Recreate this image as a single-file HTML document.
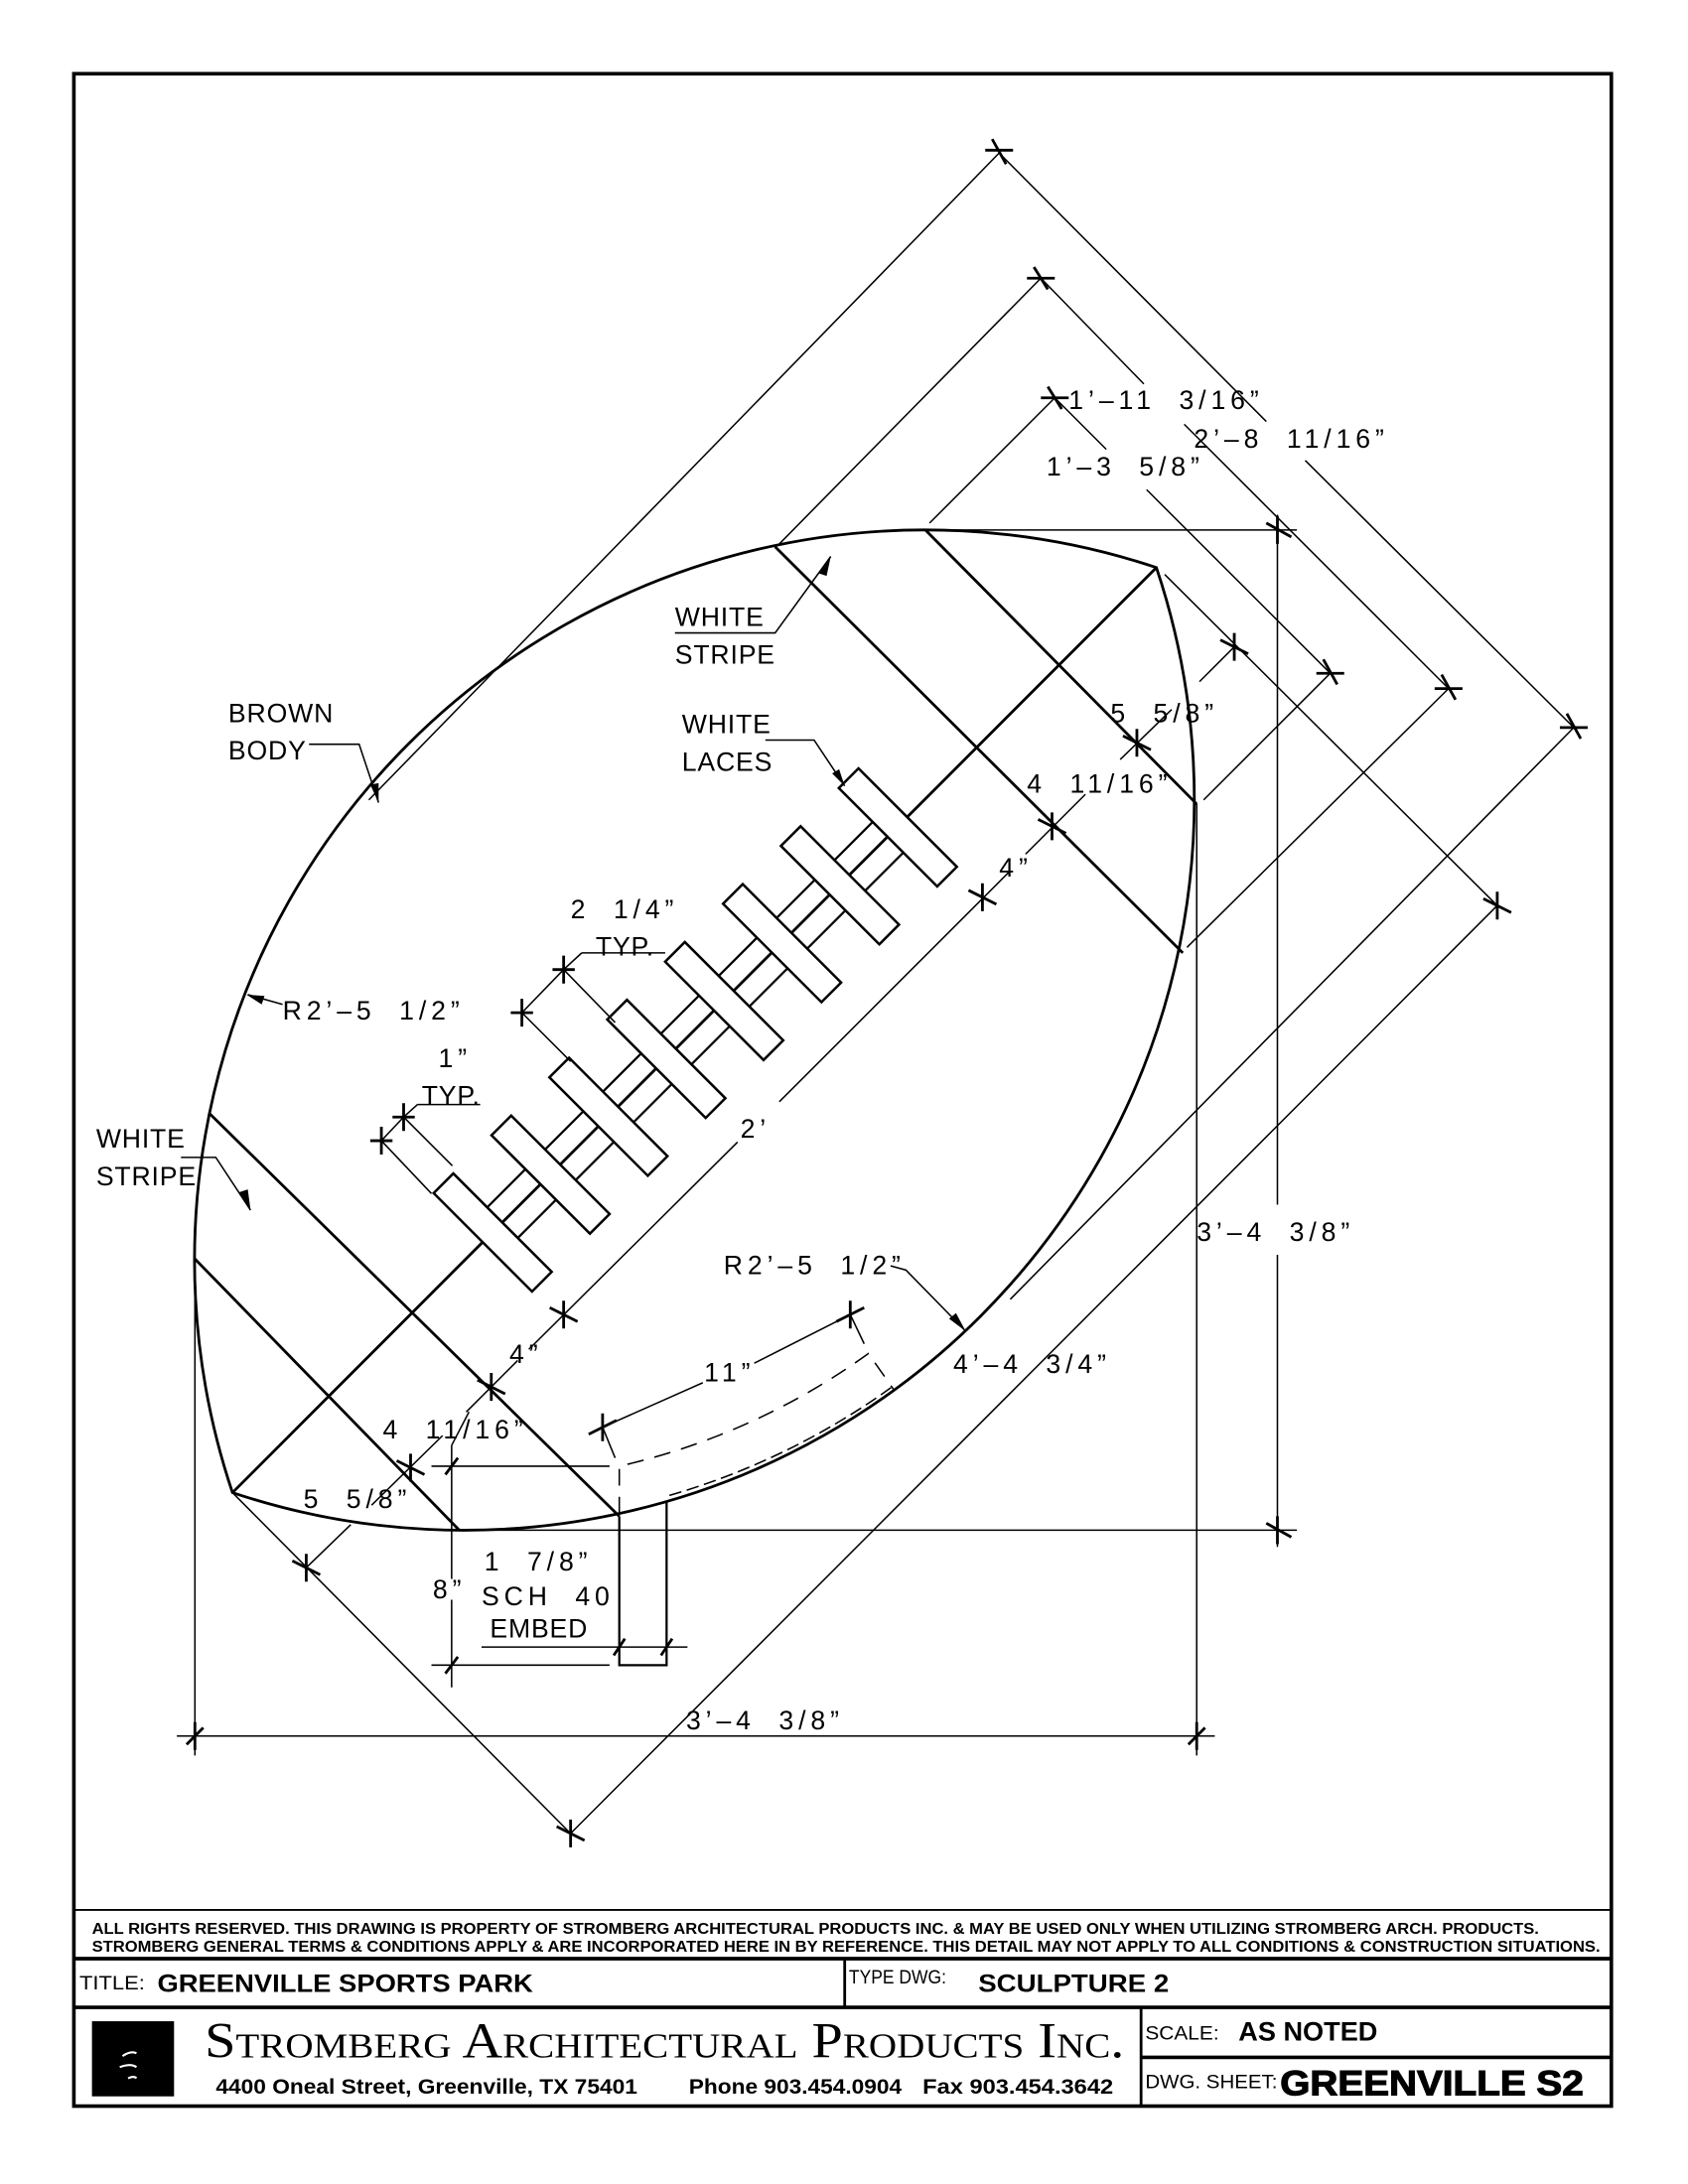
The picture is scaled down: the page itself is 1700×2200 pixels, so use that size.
<!DOCTYPE html>
<html><head><meta charset="utf-8"><style>
html,body{margin:0;padding:0;background:#fff}
svg{display:block}
text{font-family:"Liberation Sans",sans-serif;fill:#000}
.t{font-size:19px;letter-spacing:0.6px;font-weight:normal}
.d{font-size:19px;letter-spacing:3.5px;word-spacing:8px;font-weight:normal}
</style></head><body>
<svg width="1700" height="2200" viewBox="0 0 1213 1570" xmlns="http://www.w3.org/2000/svg">
<rect width="1213" height="1570" fill="#fff"/>
<!-- border -->
<rect x="53" y="53" width="1105" height="1461" fill="none" stroke="#000" stroke-width="2.6"/>
<line x1="53" y1="1373" x2="1158" y2="1373" stroke="#000" stroke-width="1.3"/>
<line x1="53" y1="1408" x2="1158" y2="1408" stroke="#000" stroke-width="2.6"/>
<line x1="53" y1="1443" x2="1158" y2="1443" stroke="#000" stroke-width="2.6"/>
<line x1="607" y1="1408" x2="607" y2="1443" stroke="#000" stroke-width="2"/>
<line x1="820" y1="1443" x2="820" y2="1514" stroke="#000" stroke-width="2"/>
<line x1="820" y1="1479" x2="1158" y2="1479" stroke="#000" stroke-width="2.6"/>

<g stroke="#000" fill="none" stroke-width="1.1">
<path d="M167,1073 A525,525 0 0 1 831,408 A525,525 0 0 1 167,1073 Z" stroke-width="2"/>
<line x1="557" y1="393" x2="850" y2="685" stroke-width="2"/>
<line x1="665" y1="381" x2="860" y2="578" stroke-width="2"/>
<line x1="150" y1="800" x2="445" y2="1090" stroke-width="2"/>
<line x1="140" y1="905" x2="330" y2="1100" stroke-width="2"/>
<line x1="167" y1="1073" x2="831" y2="408" stroke-width="2"/>
<g stroke-width="1.6">
<line x1="343" y1="875" x2="634" y2="584"/>
<line x1="365" y1="897" x2="656" y2="606"/>
</g>
<g fill="#fff" stroke-width="1.8">
<rect x="-50" y="-10" width="100" height="20" transform="translate(354,886) rotate(45)"/>
<rect x="-50" y="-10" width="100" height="20" transform="translate(395.6,844.4) rotate(45)"/>
<rect x="-50" y="-10" width="100" height="20" transform="translate(437.2,802.8) rotate(45)"/>
<rect x="-50" y="-10" width="100" height="20" transform="translate(478.8,761.2) rotate(45)"/>
<rect x="-50" y="-10" width="100" height="20" transform="translate(520.4,719.6) rotate(45)"/>
<rect x="-50" y="-10" width="100" height="20" transform="translate(562,678) rotate(45)"/>
<rect x="-50" y="-10" width="100" height="20" transform="translate(603.6,636.4) rotate(45)"/>
<rect x="-50" y="-10" width="100" height="20" transform="translate(645.2,594.8) rotate(45)"/>
</g>

<line x1="718" y1="110" x2="265" y2="575"/>
<line x1="718" y1="110" x2="910" y2="303"/>
<line x1="938" y1="331" x2="1131" y2="523"/>
<line x1="1131" y1="523" x2="726" y2="934"/>
<line x1="748" y1="200" x2="560" y2="391"/>
<line x1="748" y1="200" x2="822" y2="276"/>
<line x1="851" y1="305" x2="1041" y2="495"/>
<line x1="1041" y1="495" x2="853" y2="681"/>
<line x1="758" y1="286" x2="668" y2="376"/>
<line x1="758" y1="286" x2="795" y2="323"/>
<line x1="824" y1="352" x2="956" y2="484"/>
<line x1="956" y1="484" x2="865" y2="575"/>
<line x1="837" y1="413" x2="1076" y2="651"/>
<line x1="1076" y1="651" x2="410" y2="1318"/>
<line x1="167" y1="1073" x2="410" y2="1318"/>
<line x1="887" y1="465" x2="862" y2="490"/>
<line x1="842" y1="510" x2="805" y2="546"/>
<line x1="780" y1="571" x2="737" y2="614"/>
<line x1="725" y1="627" x2="560" y2="792"/>
<line x1="530" y1="821" x2="380" y2="970"/>
<line x1="372" y1="978" x2="335" y2="1015"/>
<line x1="318" y1="1032" x2="267" y2="1082"/>
<line x1="252" y1="1096" x2="220" y2="1127"/>
<line x1="665" y1="381" x2="932" y2="381"/>
<line x1="330" y1="1100" x2="932" y2="1100"/>
<line x1="918" y1="370" x2="918" y2="866"/>
<line x1="918" y1="902" x2="918" y2="1112"/>
<line x1="127" y1="1248" x2="873" y2="1248"/>
<line x1="140" y1="905" x2="140" y2="1262"/>
<line x1="860" y1="578" x2="860" y2="1262"/>
<polyline points="445,1090 445,1197 479,1197 479,1080" stroke-width="1.6"/>
<line x1="346" y1="1184" x2="494" y2="1184"/>
<line x1="310" y1="1054" x2="438" y2="1054"/>
<line x1="310" y1="1197" x2="438" y2="1197"/>
<line x1="324.5" y1="1039" x2="324.5" y2="1135"/>
<line x1="324.5" y1="1150" x2="324.5" y2="1213"/>
<line x1="324.5" y1="1039" x2="337" y2="1015"/>
<path d="M445,1088 L445,1054 A492,492 0 0 0 624,973 L643,1000" stroke-dasharray="12,8"/>
<path d="M481,1075 A520,520 0 0 0 641,997" stroke-dasharray="9,4"/>
<line x1="433" y1="1026" x2="505" y2="994"/>
<line x1="542" y1="980" x2="611" y2="945"/>
<line x1="433" y1="1026" x2="442" y2="1048"/>
<line x1="611" y1="945" x2="621" y2="966"/>
<line x1="375" y1="728" x2="405" y2="697"/>
<line x1="405" y1="697" x2="442" y2="735"/>
<line x1="375" y1="728" x2="410" y2="763"/>
<line x1="405" y1="697" x2="418" y2="685"/><line x1="418" y1="685" x2="478" y2="685"/>
<line x1="274" y1="820" x2="290" y2="803"/>
<line x1="290" y1="803" x2="325" y2="838"/>
<line x1="274" y1="820" x2="310" y2="858"/>
<line x1="290" y1="803" x2="300" y2="794"/><line x1="300" y1="794" x2="345" y2="794"/>
<polyline points="485,455 557,455 597,400"/>
<polyline points="222,535 258,535 272,577"/>
<polyline points="550,532 585,532 607,565"/>
<polyline points="130,832 155,832 180,870"/>
<line x1="178" y1="715" x2="203" y2="722"/>
<polyline points="640,910 651,913 694,957"/>
</g>
<g fill="#000">
<polygon points="597,400 588,412 594,414"/>
<polygon points="272,577 266,564 272,563"/>
<polygon points="607,565 598,556 603,553"/>
<polygon points="180,870 172,857 178,855"/>
<polygon points="177,715 190,716 188,722"/>
<polygon points="694,957 682,948 687,944"/>
</g>
<g stroke="#000" stroke-width="2">
<path d="M708,108 L728,108 M713,100 L723,118"/>
<path d="M738,200 L758,200 M743,192 L753,208"/>
<path d="M748,286 L768,286 M753,278 L763,294"/>
<path d="M1121,523 L1141,523 M1126,513 L1136,531"/>
<path d="M1031,495 L1051,495 M1036,485 L1046,503"/>
<path d="M946,484 L966,484 M951,474 L961,492"/>
<path d="M1076,641 L1076,661 M1066,646 L1086,656"/>
<path d="M887,455 L887,475 M877,460 L897,470"/>
<path d="M817,524 L817,544 M807,529 L827,539"/>
<path d="M756,584 L756,604 M746,589 L766,599"/>
<path d="M706,635 L706,655 M696,640 L716,650"/>
<path d="M405,935 L405,955 M395,940 L415,950"/>
<path d="M353,987 L353,1007 M343,992 L363,1002"/>
<path d="M295,1045 L295,1065 M285,1050 L305,1060"/>
<path d="M220,1117 L220,1137 M210,1122 L230,1132"/>
<path d="M410,1308 L410,1328 M400,1313 L420,1323"/>
<path d="M918,371 L918,391 M910,376 L928,386"/>
<path d="M918,1090 L918,1110 M910,1095 L928,1105"/>
<path d="M140,1238 L140,1258 M134,1254 L146,1242"/>
<path d="M860,1238 L860,1258 M854,1254 L866,1242"/>
<path d="M441,1190 L449,1178 M475,1190 L483,1178"/>
<path d="M320,1060 L329,1048 M320,1203 L329,1191"/>
<path d="M433,1016 L433,1036 M423,1031 L443,1021"/>
<path d="M611,935 L611,955 M601,950 L621,940"/>
<path d="M405,687 L405,707 M397,697 L413,697"/>
<path d="M375,718 L375,738 M367,728 L383,728"/>
<path d="M290,793 L290,813 M282,803 L298,803"/>
<path d="M274,810 L274,830 M266,820 L282,820"/>
</g>
<text x="164" y="519" class="t">BROWN</text>
<text x="164" y="546" class="t">BODY</text>
<text x="485" y="450" class="t">WHITE</text>
<text x="485" y="477" class="t">STRIPE</text>
<text x="490" y="527" class="t">WHITE</text>
<text x="490" y="554" class="t">LACES</text>
<text x="69" y="825" class="t">WHITE</text>
<text x="69" y="852" class="t">STRIPE</text>
<text x="203" y="733" class="d">R2’–5 1/2”</text>
<text x="410" y="660" class="d">2 1/4”</text>
<text x="428" y="687" class="t">TYP.</text>
<text x="315" y="767" class="d">1”</text>
<text x="303" y="794" class="t">TYP.</text>
<text x="532" y="818" class="d">2’</text>
<text x="718" y="630" class="d">4”</text>
<text x="366" y="980" class="d">4”</text>
<text x="738" y="570" class="d">4 11/16”</text>
<text x="798" y="519" class="d">5 5/8”</text>
<text x="275" y="1034" class="d">4 11/16”</text>
<text x="218" y="1084" class="d">5 5/8”</text>
<text x="768" y="294" class="d">1’–11 3/16”</text>
<text x="858" y="322" class="d">2’–8 11/16”</text>
<text x="752" y="342" class="d">1’–3 5/8”</text>
<text x="860" y="892" class="d">3’–4 3/8”</text>
<text x="685" y="987" class="d">4’–4 3/4”</text>
<text x="493" y="1243" class="d">3’–4 3/8”</text>
<text x="520" y="916" class="d">R2’–5 1/2”</text>
<text x="506" y="993" class="d">11”</text>
<text x="348" y="1129" class="d">1 7/8”</text>
<text x="346" y="1154" class="d">SCH 40</text>
<text x="352" y="1177" class="t">EMBED</text>
<text x="311" y="1149" class="d">8”</text>
<text x="66" y="1390" font-size="11" font-weight="bold" textLength="1040" lengthAdjust="spacingAndGlyphs">ALL RIGHTS RESERVED. THIS DRAWING IS PROPERTY OF STROMBERG ARCHITECTURAL PRODUCTS INC. &amp; MAY BE USED ONLY WHEN UTILIZING STROMBERG ARCH. PRODUCTS.</text>
<text x="66" y="1403" font-size="11" font-weight="bold" textLength="1084" lengthAdjust="spacingAndGlyphs">STROMBERG GENERAL TERMS &amp; CONDITIONS APPLY &amp; ARE INCORPORATED HERE IN BY REFERENCE. THIS DETAIL MAY NOT APPLY TO ALL CONDITIONS &amp; CONSTRUCTION SITUATIONS.</text>
<text x="57" y="1430" font-size="14" textLength="47" lengthAdjust="spacingAndGlyphs">TITLE:</text>
<text x="113" y="1432" font-size="18" font-weight="bold" textLength="270" lengthAdjust="spacingAndGlyphs">GREENVILLE SPORTS PARK</text>
<text x="610" y="1426" font-size="14" textLength="70" lengthAdjust="spacingAndGlyphs">TYPE DWG:</text>
<text x="703" y="1432" font-size="18" font-weight="bold" textLength="137" lengthAdjust="spacingAndGlyphs">SCULPTURE 2</text>
<rect x="66" y="1453" width="59" height="54" fill="#000"/>
<path d="M88,1478 q6,-4 10,-2 M86,1486 q8,-3 12,0 M92,1494 q4,-2 6,0" stroke="#fff" stroke-width="1.5" fill="none"/>
<text x="147" y="1479" font-size="36" style="font-family:'Liberation Serif',serif;font-variant:small-caps" textLength="661" lengthAdjust="spacingAndGlyphs">Stromberg Architectural Products Inc.</text>
<text x="155" y="1505" font-size="15" font-weight="bold" textLength="303" lengthAdjust="spacingAndGlyphs">4400 Oneal Street, Greenville, TX  75401</text>
<text x="495" y="1505" font-size="15" font-weight="bold" textLength="153" lengthAdjust="spacingAndGlyphs">Phone 903.454.0904</text>
<text x="663" y="1505" font-size="15" font-weight="bold" textLength="137" lengthAdjust="spacingAndGlyphs">Fax 903.454.3642</text>
<text x="823" y="1466" font-size="14" textLength="53" lengthAdjust="spacingAndGlyphs">SCALE:</text>
<text x="890" y="1467" font-size="19" font-weight="bold" textLength="100" lengthAdjust="spacingAndGlyphs">AS NOTED</text>
<text x="823" y="1501" font-size="14" textLength="95" lengthAdjust="spacingAndGlyphs">DWG. SHEET:</text>
<text x="920" y="1506" font-size="25" font-weight="bold" textLength="218" lengthAdjust="spacingAndGlyphs" stroke="#000" stroke-width="0.8">GREENVILLE S2</text>
</svg>
</body></html>
